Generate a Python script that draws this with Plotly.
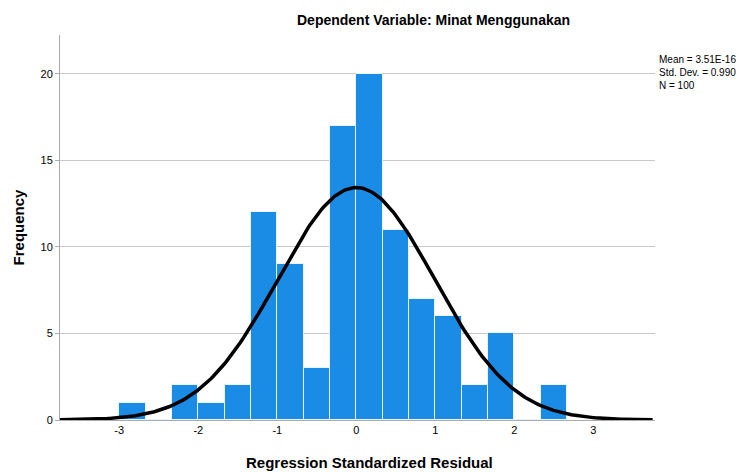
import numpy as np
import plotly.graph_objects as go

# histogram bins (left edges) and counts
bin_left = [-3.0, -2.667, -2.333, -2.0, -1.667, -1.333, -1.0, -0.667, -0.333,
            0.0, 0.333, 0.667, 1.0, 1.333, 1.667, 2.0, 2.333]
counts = [1, 0, 2, 1, 2, 12, 9, 3, 17, 20, 11, 7, 6, 2, 5, 0, 2]
bin_width = 1 / 3

x_ticks = [-3, -2, -1, 0, 1, 2, 3]
x_ticklabels = ['-3', '-2', '-1', '0', '1', '2', '3']
y_ticks = [0, 5, 10, 15, 20]

mean_val = 3.51e-16
std_val = 0.990
n_val = 100

centers = [b + bin_width / 2 for b in bin_left]

# normal curve from the summary stats
xs = np.linspace(-3.75, 3.75, 300)
ys = n_val * bin_width * np.exp(-0.5 * ((xs - mean_val) / std_val) ** 2) / (std_val * np.sqrt(2 * np.pi))

fig = go.Figure()
fig.add_trace(go.Bar(
    x=centers, y=counts, width=bin_width,
    marker=dict(color='#1a8ce6', line=dict(color='#e8f3fc', width=1)),
    showlegend=False
))
fig.add_trace(go.Scatter(
    x=xs, y=ys, mode='lines',
    line=dict(color='black', width=3.5),
    showlegend=False
))

# page body adds ~8px margin, so the figure is sized/offset to compensate
W, H = 738, 464
ML, MR, MT, MB = 52, 91, 27, 52
plot_h = H - MT - MB

fig.update_layout(
    width=W, height=H,
    margin=dict(l=ML, r=MR, t=MT, b=MB),
    paper_bgcolor='white', plot_bgcolor='white',
    font=dict(family='Liberation Sans, Arial, sans-serif', color='black'),
    bargap=0,
    xaxis=dict(
        range=[-3.75, 3.78], tickvals=x_ticks, ticktext=x_ticklabels,
        showgrid=False, zeroline=False, showline=True, linecolor='#aaaaaa',
        ticks='', tickfont=dict(size=11), automargin=False,
    ),
    yaxis=dict(
        range=[0, 22.25], tickvals=y_ticks,
        showgrid=True, gridcolor='#c8c8c8', zeroline=False,
        showline=True, linecolor='#aaaaaa', ticks='outside', ticklen=4, tickcolor='#aaaaaa',
        tickfont=dict(size=11), automargin=False,
        title=dict(text='<b>Frequency</b>', font=dict(size=15), standoff=12)
    ),
    annotations=[
        dict(text='<b>Dependent Variable: Minat Menggunakan</b>', x=0.627,
             y=1 + 15 / plot_h, yanchor='middle',
             xref='paper', yref='paper', showarrow=False, font=dict(size=14)),
        dict(text='<b>Regression Standardized Residual</b>', x=0.521,
             y=-42 / plot_h, yanchor='middle',
             xref='paper', yref='paper', showarrow=False, font=dict(size=15)),
        dict(text='Mean = 3.51E-16<br>Std. Dev. = 0.990<br>N = 100', x=1.003, y=0.955,
             xref='paper', yref='paper', xanchor='left', yanchor='top', align='left',
             showarrow=False, font=dict(size=10)),
    ]
)

fig.write_html("out.html")
